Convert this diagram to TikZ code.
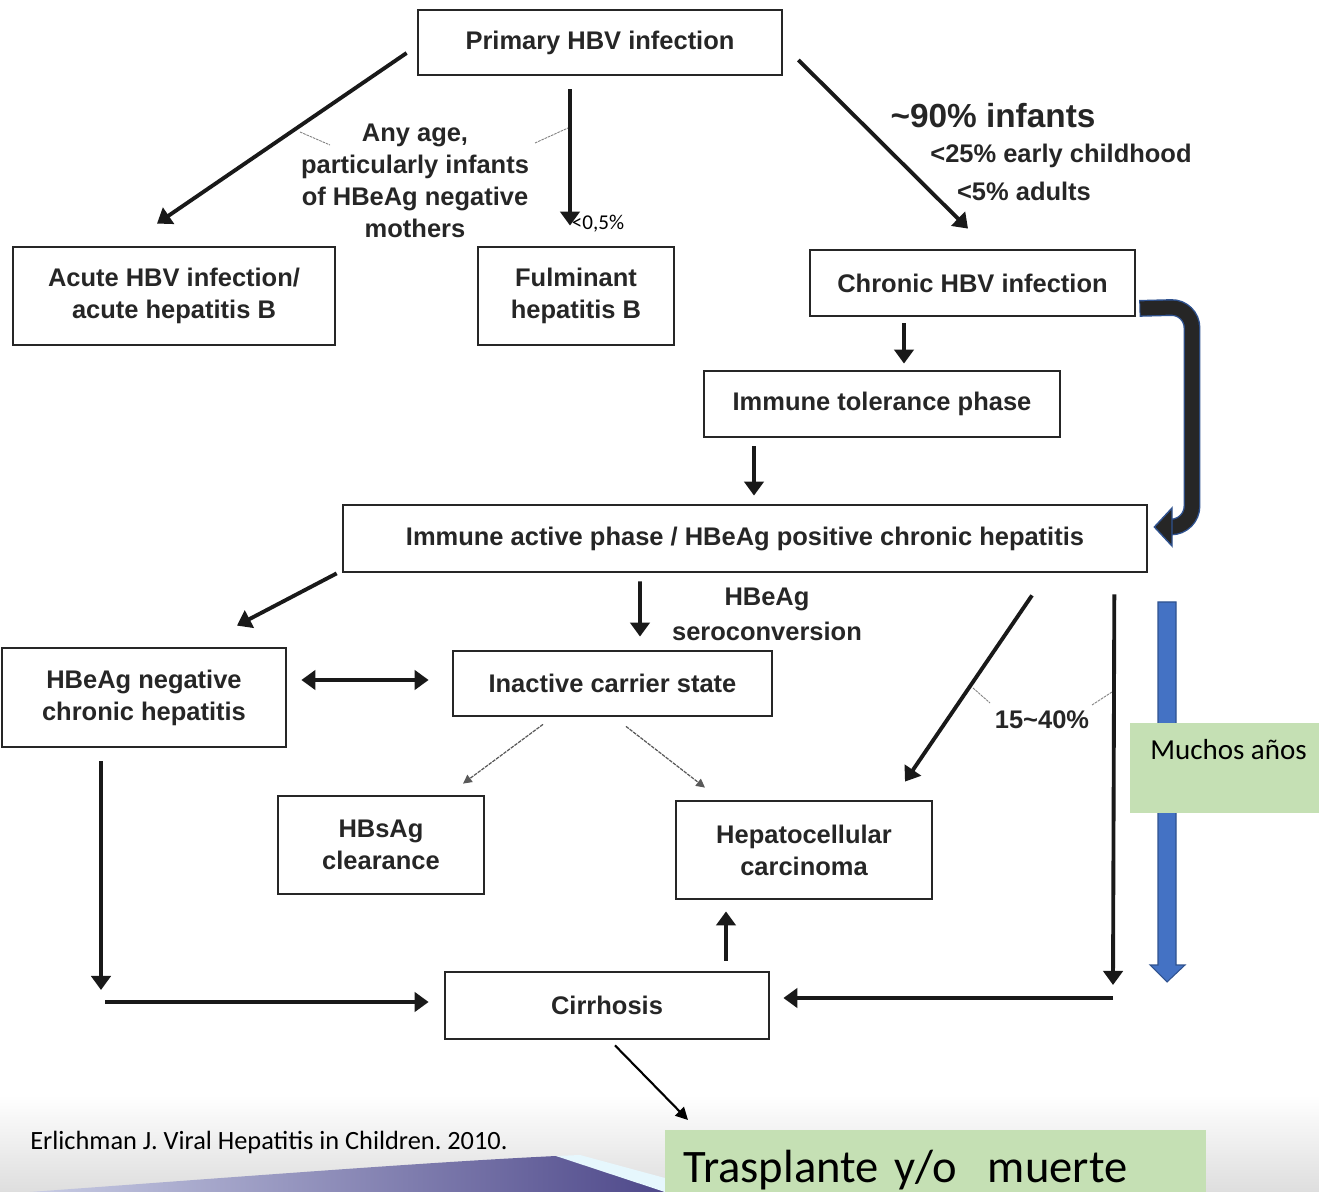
\documentclass[tikz,border=0pt]{standalone}
\usepackage{fontspec}
\setmainfont{Liberation Sans}
\newfontfamily\calib{Carlito}
\usetikzlibrary{arrows.meta, calc}

\newcommand\boxfont{\fontsize{14.5}{18.2}\selectfont\bfseries}
\definecolor{slidegreen}{HTML}{C5E0B4}
\definecolor{slideblue}{HTML}{4472C4}
\definecolor{slideedge}{HTML}{2F528F}
\frenchspacing

\begin{document}
\begin{tikzpicture}[x=0.02cm, y=-0.02cm,
  box/.style={draw=black!85, line width=1.6pt, align=center, font=\boxfont, text=black!85},
  lbl/.style={align=center, font=\boxfont, text=black!85, inner sep=0pt},
  arr/.style={-{Triangle[length=8pt,width=11pt]}, draw=black!90, line width=2.2pt},
  dbl/.style={{Triangle[length=8pt,width=11pt]}-{Triangle[length=8pt,width=11pt]}, draw=black!90, line width=2.2pt},
  thin/.style={-{Triangle[length=5pt,width=5pt]}, draw=black!65, line width=0.7pt, dash pattern=on 2pt off 0.6pt},
  lead/.style={draw=black!50, line width=0.5pt, dash pattern=on 1.5pt off 0.5pt},
  greenbox/.style={fill=slidegreen, draw=none}]

\useasboundingbox (0,0) rectangle (1319,1192);

% slide background at the bottom
\shade[top color=white, bottom color=black!13] (0,1095) rectangle (1319,1192);
\shade[left color={rgb,255:red,200;green,204;blue,228}, right color={rgb,255:red,78;green,72;blue,138}]
  (30,1192) .. controls (250,1176) and (430,1162) .. (556,1156) -- (600,1168) -- (665,1192) -- cycle;
\fill[cyan!10] (556,1156) -- (580,1155) -- (665,1178) -- (665,1192) -- cycle;

% boxes
\node[box, minimum width=7.28cm, minimum height=1.30cm] (primary) at (600,42.5) {Primary HBV infection};
\node[box, minimum width=6.44cm, minimum height=1.96cm] (acute) at (174,296) {Acute HBV infection/\\acute hepatitis B};
\node[box, minimum width=3.92cm, minimum height=1.96cm] (fulminant) at (576,296) {Fulminant\\hepatitis B};
\node[box, minimum width=6.50cm, minimum height=1.32cm] (chronic) at (972.5,283) {Chronic HBV infection};
\node[box, minimum width=7.12cm, minimum height=1.32cm] (tolerance) at (882,404) {Immune tolerance phase};
\node[box, minimum width=16.08cm, minimum height=1.34cm] (active) at (745,538.5) {Immune active phase / HBeAg positive chronic hepatitis};
\node[box, minimum width=5.68cm, minimum height=1.98cm] (negative) at (144,697.5) {HBeAg negative\\chronic hepatitis};
\node[box, minimum width=6.38cm, minimum height=1.30cm] (inactive) at (612.5,683.5) {Inactive carrier state};
\node[box, minimum width=4.12cm, minimum height=1.96cm] (clearance) at (381,845) {HBsAg\\clearance};
\node[box, minimum width=5.12cm, minimum height=1.96cm] (hcc) at (804,850) {Hepatocellular\\carcinoma};
\node[box, minimum width=6.48cm, minimum height=1.34cm] (cirrhosis) at (607,1005.5) {Cirrhosis};

% labels
\node[lbl] (anyage) at (415,181) {Any age,\\particularly infants\\of HBeAg negative\\mothers};
\node[font=\calib\fontsize{12}{14}\selectfont, inner sep=0pt] (lowpct) at (598,224) {<0,5\%};
\node[lbl, font=\fontsize{19}{22}\selectfont\bfseries] (infants) at (993,116) {\textasciitilde90\% infants};
\node[lbl] (early) at (1061,156) {<25\% early childhood};
\node[lbl] (adults) at (1024,191) {<5\% adults};
\node[lbl, align=center, font=\fontsize{14.5}{20}\selectfont\bfseries] (serocon) at (767,614) {HBeAg\\seroconversion};
\node[lbl] (hccpct) at (1042,720) {15\textasciitilde40\%};

\draw[lead] ($(anyage)+(-115,-49)$) -- ($(anyage)+(-85,-36)$);
\draw[lead] ($(anyage)+(120,-38)$) -- ($(anyage)+(153,-53)$);
\draw[lead] ($(hccpct)+(-69,-32)$) -- ($(hccpct)+(-52,-17)$);
\draw[lead] ($(hccpct)+(50,-15)$) -- ($(hccpct)+(70,-28)$);

% corners of the paths into cirrhosis
\coordinate (lcorner) at (101,1002);
\coordinate (rcorner) at (1113,998);

% arrows
\draw[arr] ($(primary.west)+(-10,10.5)$) -- ($(acute.north)+(-17,-22)$);
\draw[arr] ($(primary.south)+(-30,13)$) -- ($(fulminant.north)+(-6,-20)$);
\draw[arr] ($(primary.east)+(15,17.5)$) -- ($(chronic.north)+(-4.5,-20)$);
\draw[arr] ($(chronic.south)+(-68.5,6)$) -- ($(tolerance.north)+(22,-6)$);
\draw[arr] ($(tolerance.south)+(-128,8)$) -- ($(active.north)+(9,-8)$);
\draw[arr] ($(active.south west)+(-5,0)$) -- ($(negative.north)+(93,-21)$);
\draw[arr] ($(active.south)+(-105,8)$) -- ($(inactive.north)+(27.5,-13)$);
\draw[arr] ($(active.south)+(287,22)$) -- ($(hcc.north)+(101,-18)$);
\draw[arr] ($(active.south east)+(-34,21)$) -- ($(rcorner)+(0,-13)$);
\draw[arr] (rcorner) -- ($(cirrhosis.east)+(13,-7.5)$);
\draw[dbl] ($(negative.east)+(14,-17.5)$) -- ($(inactive.west)+(-23,-3.5)$);
\draw[arr] ($(negative.south)+(-43,13)$) -- ($(lcorner)+(0,-12)$);
\draw[arr] ($(lcorner)+(4,0)$) -- ($(cirrhosis.west)+(-15,-3.5)$);
\draw[arr] ($(cirrhosis.north)+(119,-10)$) -- ($(hcc.south)+(-78,11)$);
\draw[thin] ($(inactive.south)+(-69.5,7)$) -- ($(clearance.north)+(82,-11)$);
\draw[thin] ($(inactive.south)+(13.5,9)$) -- ($(hcc.north)+(-99,-12)$);

% bent arrow from chronic infection to the active phase
\coordinate (bendend) at ($(active.east)+(6,-11.5)$);
\draw[slideedge, line width=9.6pt, rounded corners=0.42cm]
  ($(chronic.south east)+(3,-9)$) -- (1192,307) -- (1192,527) -- (1168,527);
\draw[black!85, line width=8pt, rounded corners=0.42cm]
  ($(chronic.south east)+(4,-9)$) -- (1192,307) -- (1192,527) -- (1168,527);
\draw[slideedge, fill=black!85, line width=0.8pt]
  (bendend) -- (1172,508) -- (1172,546) -- cycle;

% years arrow and its note
\draw[slideedge, fill=slideblue, line width=0.6pt]
  (1158,602) -- (1176,602) -- (1176,965) -- (1185,965) -- (1167,982) -- (1150,965) -- (1158,965) -- cycle;
\node[greenbox, minimum width=3.78cm, minimum height=1.80cm] (muchos) at (1224.5,768) {};
\node[font=\calib\fontsize{16.5}{19}\selectfont, anchor=north, inner sep=0pt] at ($(muchos.north)+(4,16)$) {Muchos años};

% outcome
\node[greenbox, anchor=north west, text width=10.1cm, inner xsep=0.36cm, inner ysep=11pt, align=left,
  font=\calib\fontsize{26.5}{30}\selectfont] (trasplante) at (665,1130) {Trasplante y/o\ \ muerte};
\draw[-{Triangle[length=7pt,width=7pt]}, line width=1.2pt] ($(cirrhosis.south)+(8,5)$) -- ($(trasplante.north west)+(23,-10)$);

\node[font=\calib\fontsize{15}{18}\selectfont, anchor=west, inner sep=0pt] (cite) at (30,1142) {Erlichman J. Viral Hepatitis in Children. 2010.};

\end{tikzpicture}
\end{document}
